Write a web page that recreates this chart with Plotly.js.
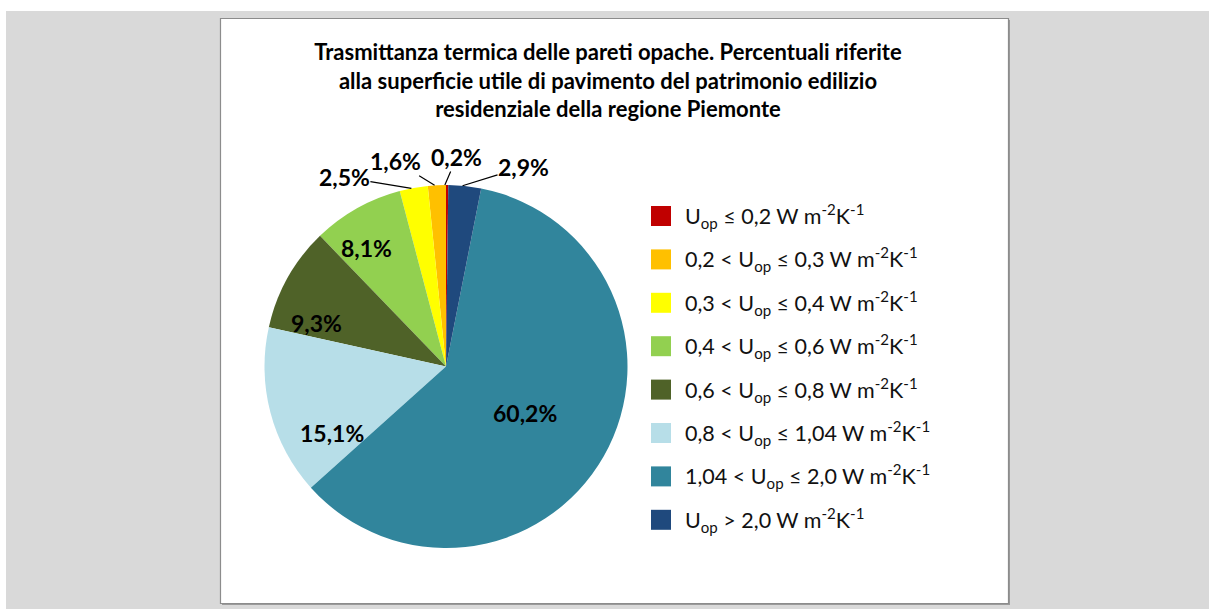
<!DOCTYPE html>
<html>
<head>
<meta charset="utf-8">
<script src="https://cdn.plot.ly/plotly-3.0.1.min.js"></script>
<style>
  html, body { margin: 0; padding: 0; background: #ffffff; }
  #chart { width: 1209px; height: 609px; }
</style>
</head>
<body>
<div id="chart"></div>
<script>
// ---- data ----
const categories = [
  'U<sub>op</sub> ≤ 0,2 W m<sup>-2</sup>K<sup>-1</sup>',
  '0,2 < U<sub>op</sub> ≤ 0,3 W m<sup>-2</sup>K<sup>-1</sup>',
  '0,3 < U<sub>op</sub> ≤ 0,4 W m<sup>-2</sup>K<sup>-1</sup>',
  '0,4 < U<sub>op</sub> ≤ 0,6 W m<sup>-2</sup>K<sup>-1</sup>',
  '0,6 < U<sub>op</sub> ≤ 0,8 W m<sup>-2</sup>K<sup>-1</sup>',
  '0,8 < U<sub>op</sub> ≤ 1,04 W m<sup>-2</sup>K<sup>-1</sup>',
  '1,04 < U<sub>op</sub> ≤ 2,0 W m<sup>-2</sup>K<sup>-1</sup>',
  'U<sub>op</sub> > 2,0 W m<sup>-2</sup>K<sup>-1</sup>'
];
const values = [0.2, 1.6, 2.5, 8.1, 9.3, 15.1, 60.2, 2.9];
const sliceColors = ['#C00000', '#FFC000', '#FFFF00', '#92D050', '#4F6228', '#B7DEE8', '#31859C', '#1F497D'];
const chartTitle = 'Trasmittanza termica delle pareti opache. Percentuali riferite<br>alla superficie utile di pavimento del patrimonio edilizio<br>residenziale della regione Piemonte';

// ---- layout helpers ----
const W = 1209, H = 609;
const px = x => x / W;
const py = y => 1 - y / H;
const pieCx = 446, pieCy = 366.5, pieR = 181.5;
const insideMin = 5;
const fmt = v => v.toFixed(1).replace('.', ',') + '%';
const FONT = 'Lato, "Open Sans", sans-serif';
const labelFont = { family: FONT, size: 23, color: '#000000', weight: 'bold' };

const trace = {
  type: 'pie',
  values: values,
  labels: categories.map(c => c.replace(/<[^>]+>/g, '')),
  text: values.map(fmt),
  textinfo: 'none',
  hoverinfo: 'label+text',
  sort: false,
  direction: 'counterclockwise',
  rotation: 0,
  marker: { colors: sliceColors, line: { width: 0 } },
  showlegend: false,
  domain: { x: [px(pieCx - pieR), px(pieCx + pieR)], y: [py(pieCy + pieR), py(pieCy - pieR)] }
};

// data-label placement (label offsets only, in px)
const insideLabelOffsets = { 3: [-80, -119], 4: [-130, -44], 5: [-114, 66], 6: [79, 46] };
const outsideLabelOffsets = { 0: [12, -28], 1: [-39, -24], 2: [-67, -11], 7: [61, -19] };

const annotations = [];
let cum = 0;
const total = values.reduce((a, b) => a + b, 0);
values.forEach((v, i) => {
  const mid = (cum + v / 2) / total;
  cum += v;
  if (v >= insideMin) {
    const o = insideLabelOffsets[i];
    annotations.push({
      xref: 'paper', yref: 'paper', x: px(pieCx + o[0]), y: py(pieCy + o[1]),
      text: fmt(v), font: labelFont, showarrow: false, xanchor: 'center', yanchor: 'middle'
    });
    return;
  }
  const ang = mid * 2 * Math.PI; // counterclockwise from 12 o'clock
  const tx = pieCx - pieR * Math.sin(ang);
  const ty = pieCy - pieR * Math.cos(ang);
  const off = outsideLabelOffsets[i];
  annotations.push({
    xref: 'paper', yref: 'paper', x: px(tx), y: py(ty),
    text: fmt(v), font: labelFont, showarrow: true, arrowhead: 0,
    arrowwidth: 1.2, arrowcolor: '#000000', ax: off[0], ay: off[1], standoff: 0,
    xanchor: 'center', yanchor: 'middle', borderpad: 0
  });
});

// background panels
const shapes = [
  { type: 'rect', xref: 'paper', yref: 'paper', x0: px(6), x1: 1, y0: 0, y1: py(11),
    fillcolor: '#d9d9d9', line: { width: 0 }, layer: 'below' },
  { type: 'rect', xref: 'paper', yref: 'paper', x0: px(222), x1: px(1010), y0: py(605), y1: py(20),
    fillcolor: '#9a9a9a', line: { width: 0 }, layer: 'below' },
  { type: 'rect', xref: 'paper', yref: 'paper', x0: px(220.5), x1: px(1008.5), y0: py(603.5), y1: py(18.5),
    fillcolor: '#ffffff', line: { color: '#8c8c8c', width: 1.2 }, layer: 'below' }
];

// custom legend
const legTop = 216, legStep = 43.4;
categories.forEach((c, i) => {
  const cy = legTop + i * legStep;
  shapes.push({ type: 'rect', xref: 'paper', yref: 'paper', x0: px(651), x1: px(671),
    y0: py(cy + 10), y1: py(cy - 10), fillcolor: sliceColors[i], line: { width: 0 } });
  annotations.push({ xref: 'paper', yref: 'paper', x: px(683), y: py(cy), xanchor: 'left', yanchor: 'middle',
    text: c, showarrow: false, font: { family: FONT, size: 21.5, color: '#111111' } });
});

const layout = {
  width: W, height: H,
  margin: { l: 0, r: 0, t: 0, b: 0, pad: 0 },
  paper_bgcolor: '#ffffff',
  title: { text: chartTitle, x: px(608), xanchor: 'center', xref: 'paper', y: py(60), yanchor: 'top', yref: 'paper',
    font: { family: FONT, size: 22, color: '#000000', weight: 'bold' } },
  shapes: shapes,
  annotations: annotations,
  showlegend: false
};

Plotly.newPlot('chart', [trace], layout, { displayModeBar: false, staticPlot: true });
</script>
</body>
</html>
